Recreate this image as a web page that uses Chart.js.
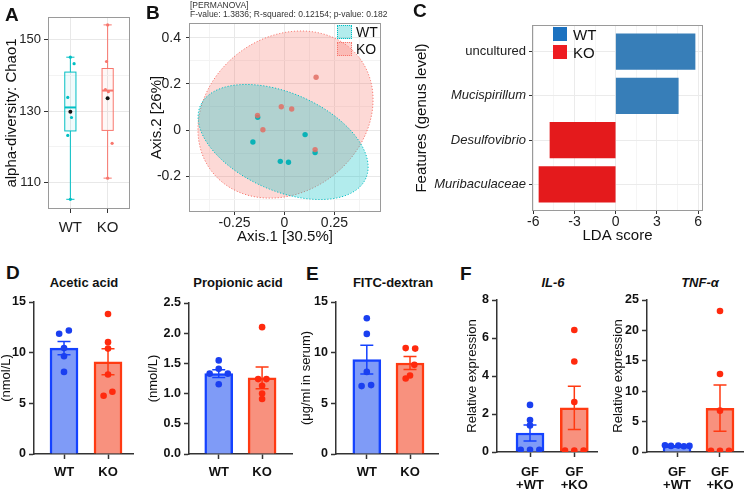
<!DOCTYPE html>
<html>
<head>
<meta charset="utf-8">
<script src="https://cdn.jsdelivr.net/npm/chart.js@4.4.1/dist/chart.umd.min.js"></script>
<style>
  body { margin: 0; background: #fff; }
  #fig { position: relative; width: 750px; height: 491px; overflow: hidden; font-family: 'Liberation Sans', Arial, sans-serif; color: #111; }
  #fig canvas { position: absolute; }
  .letter { position: absolute; font-weight: bold; font-size: 19px; line-height: 1; }
  .c { position: absolute; white-space: nowrap; line-height: 1; transform: translate(-50%, -50%); }
  .l { position: absolute; white-space: nowrap; line-height: 1; transform: translateY(-50%); }
  .key { position: absolute; box-sizing: border-box; }
  .ttl { font-weight: bold; font-size: 13px; }
</style>
</head>
<body>
<div id="fig">
  <canvas id="cA"></canvas>
  <canvas id="cB"></canvas>
  <canvas id="cC"></canvas>
  <canvas id="cAcetic"></canvas>
  <canvas id="cProp"></canvas>
  <canvas id="cFitc"></canvas>
  <canvas id="cIl6"></canvas>
  <canvas id="cTnf"></canvas>

  <div class="letter" style="left:5px;top:5px">A</div>
  <div class="letter" style="left:146px;top:3px">B</div>
  <div class="letter" style="left:413px;top:1px">C</div>
  <div class="letter" style="left:6px;top:263px">D</div>
  <div class="letter" style="left:306px;top:264px">E</div>
  <div class="letter" style="left:460px;top:264px">F</div>

  <div class="l" style="left:190px;top:5px;font-size:8.5px;color:#333">[PERMANOVA]</div>
  <div class="l" style="left:190px;top:14px;font-size:8.5px;color:#333">F-value: 1.3836; R-squared: 0.12154; p-value: 0.182</div>

  <div class="key" style="left:337px;top:25px;width:15px;height:14px;background:rgba(0,191,196,0.3);border:1px dotted #00bfc4"></div>
  <div class="key" style="left:337px;top:42px;width:15px;height:14px;background:rgba(248,118,109,0.3);border:1px dotted #f8766d"></div>
  <div class="l" style="left:356px;top:32px;font-size:14px">WT</div>
  <div class="l" style="left:356px;top:49px;font-size:14px">KO</div>

  <div class="key" style="left:553px;top:27px;width:14px;height:14px;background:#1c72c0"></div>
  <div class="key" style="left:553px;top:45px;width:14px;height:14px;background:#ee1c22"></div>
  <div class="l" style="left:573px;top:34px;font-size:15px">WT</div>
  <div class="l" style="left:573px;top:52px;font-size:15px">KO</div>

  <div class="c ttl" style="left:84px;top:282px">Acetic acid</div>
  <div class="c ttl" style="left:238px;top:282px">Propionic acid</div>
  <div class="c ttl" style="left:393px;top:282px">FITC-dextran</div>
  <div class="c ttl" style="left:553px;top:282px;font-style:italic">IL-6</div>
  <div class="c ttl" style="left:700px;top:282px;font-style:italic">TNF-α</div>
</div>

<script>
const groups = ['WT', 'KO'];

// A: alpha diversity (Chao1), one value per mouse
const chaoWT = [145.0, 143.2, 133.8, 128.2, 123.2, 105.4];
const chaoKO = [154.0, 143.8, 136.0, 135.4, 121.0, 111.3];
const chaoJitterWT = [0, 0.1, -0.07, 0.03, -0.07, 0];
const chaoJitterKO = [0, -0.03, -0.06, 0.02, 0.12, 0];
const chaoTicks = [110, 130, 150];

// B: PCoA coordinates
const pcoaWTx = [-0.134, -0.158, 0.103, 0.153, -0.021, 0.020];
const pcoaWTy = [0.055, -0.052, -0.020, -0.098, -0.136, -0.140];
const pcoaKOx = [0.158, -0.016, 0.036, -0.135, -0.108, 0.153];
const pcoaKOy = [0.229, 0.101, 0.091, 0.063, 0.001, -0.085];
// confidence ellipses: centre x, centre y, then two conjugate semi-axes (dx, dy)
const ellipseWT = [-0.007, -0.052, 0.414, -0.157, -0.097, -0.194];
const ellipseKO = [0.005, 0.067, 0.372, 0.243, 0.231, -0.269];
const pcoaXTicks = [-0.25, 0, 0.25];
const pcoaYTicks = [-0.2, 0, 0.2, 0.4];

// C: LEfSe LDA scores
const ldaFeatures = ['uncultured', 'Mucispirillum', 'Desulfovibrio', 'Muribaculaceae'];
const ldaScores = [5.77, 4.55, -4.78, -5.58];
const ldaGroup = ['WT', 'WT', 'KO', 'KO'];
const ldaItalic = [false, true, true, true];
const ldaTicks = [-6, -3, 0, 3, 6];

// D: short chain fatty acids
const aceticWT = [11.86, 12.19, 10.45, 9.64, 8.1];
const aceticKO = [13.82, 11.04, 10.4, 7.84, 6.14, 5.75];
const aceticMean = [10.45, 9.1];
const aceticSem = [0.66, 1.28];
const aceticTicks = [0, 5, 10, 15];

const propWT = [1.55, 1.41, 1.33, 1.33, 1.155];
const propKO = [2.1, 1.24, 1.24, 1.13, 1.0, 0.91];
const propMean = [1.33, 1.26];
const propSem = [0.065, 0.18];
const propTicks = [0, 0.5, 1.0, 1.5, 2.0, 2.5];

// E: FITC-dextran in serum
const fitcWT = [13.39, 11.85, 8.1, 6.7, 6.8];
const fitcKO = [10.45, 10.4, 8.8, 7.75, 7.45];
const fitcMean = [9.31, 8.98];
const fitcSem = [1.41, 0.64];
const fitcTicks = [0, 5, 10, 15];

// F: relative expression in germ-free recipients
const gfLabels = [['GF', '+WT'], ['GF', '+KO']];
const il6WT = [2.48, 1.68, 1.4, 0.12, 0.12, 0.12];
const il6KO = [6.42, 4.76, 2.63, 0.07, 0.07, 0.07];
const il6Mean = [1.0, 2.32];
const il6Sem = [0.42, 1.14];
const il6Ticks = [0, 2, 4, 6, 8];

const tnfWT = [1.1, 1.0, 1.05, 0.95, 1.0];
const tnfKO = [23.2, 12.83, 6.8, 0.2, 0.2, 0.2];
const tnfMean = [1.0, 7.2];
const tnfSem = [0.04, 3.8];
const tnfTicks = [0, 5, 10, 15, 20, 25];

// horizontal spread of the dots (category units)
const spread5 = [0, 0, -0.21, 0.21, 0];
const spread6 = [0, 0, 0, -0.21, 0, 0.21];

Chart.defaults.font.family = "'Liberation Sans', Arial, sans-serif";
Chart.defaults.color = '#222';

const TEAL = '#00BFC4', SALMON = '#F8766D';
const WT = { fill: '#7f9bf7', line: '#1442ff', dot: '#1a3ff0' };
const KO = { fill: '#f8917e', line: '#ff3a12', dot: '#ff2a0e' };
const AXIS = '#333';

function place(id, plot, pad) {
  const c = document.getElementById(id);
  const left = plot[0] - pad.l, top = plot[1] - pad.t;
  c.width = plot[2] + pad.r - left;
  c.height = plot[3] + pad.b - top;
  c.style.left = left + 'px';
  c.style.top = top + 'px';
  return c;
}

function fitTo(size, horizontal) {
  return s => {
    if (horizontal) s.height = size; else s.width = size;
    s.paddingTop = s.paddingBottom = s.paddingLeft = s.paddingRight = 0;
  };
}

// major ticks plus ggplot-style minor breaks half way between them
function withMinor(major, min, max) {
  const half = (major[1] - major[0]) / 2;
  const out = [];
  for (let v = major[0] - half; v <= major[major.length - 1] + half + 1e-9; v += half) {
    const r = +v.toFixed(6);
    if (r >= min && r <= max) out.push({ value: r });
  }
  return out;
}
const isIn = (arr, v) => arr.some(m => Math.abs(m - v) < 1e-9);

const panelBorder = {
  id: 'panelBorder',
  afterDraw(chart) {
    const { ctx, chartArea: a } = chart;
    ctx.save();
    ctx.strokeStyle = '#9a9a9a';
    ctx.lineWidth = 1;
    ctx.strokeRect(a.left + 0.5, a.top + 0.5, a.right - a.left - 1, a.bottom - a.top - 1);
    ctx.restore();
  }
};

function quantile(sorted, p) {
  const h = (sorted.length - 1) * p, lo = Math.floor(h);
  const next = sorted[Math.min(lo + 1, sorted.length - 1)];
  return sorted[lo] + (h - lo) * (next - sorted[lo]);
}
function boxStats(vals) {
  const s = [...vals].sort((a, b) => a - b);
  const q1 = quantile(s, 0.25), med = quantile(s, 0.5), q3 = quantile(s, 0.75);
  const iqr = q3 - q1;
  return {
    q1, med, q3,
    lo: Math.min(...s.filter(v => v >= q1 - 1.5 * iqr)),
    hi: Math.max(...s.filter(v => v <= q3 + 1.5 * iqr)),
    mean: s.reduce((a, b) => a + b, 0) / s.length
  };
}

const boxPlot = {
  id: 'boxPlot',
  beforeDatasetsDraw(chart) {
    const { ctx, scales: { x, y } } = chart;
    [chaoWT, chaoKO].forEach((vals, i) => {
      const st = boxStats(vals);
      const col = [TEAL, SALMON][i];
      const cx = x.getPixelForValue(i + 1);
      const hw = x.getPixelForValue(i + 1.15) - cx;
      const cap = x.getPixelForValue(i + 1.11) - cx;
      const py = v => y.getPixelForValue(v);
      ctx.save();
      ctx.strokeStyle = col;
      ctx.lineWidth = 1;
      ctx.beginPath();
      ctx.moveTo(cx, py(st.hi)); ctx.lineTo(cx, py(st.q3));
      ctx.moveTo(cx, py(st.q1)); ctx.lineTo(cx, py(st.lo));
      ctx.moveTo(cx - cap, py(st.hi)); ctx.lineTo(cx + cap, py(st.hi));
      ctx.moveTo(cx - cap, py(st.lo)); ctx.lineTo(cx + cap, py(st.lo));
      ctx.stroke();
      ctx.fillStyle = i ? 'rgba(248,118,109,0.06)' : 'rgba(0,191,196,0.06)';
      ctx.fillRect(cx - hw, py(st.q3), 2 * hw, py(st.q1) - py(st.q3));
      ctx.strokeRect(cx - hw, py(st.q3), 2 * hw, py(st.q1) - py(st.q3));
      ctx.lineWidth = 2;
      ctx.beginPath();
      ctx.moveTo(cx - hw, py(st.med)); ctx.lineTo(cx + hw, py(st.med));
      ctx.stroke();
      ctx.restore();
    });
  },
  afterDatasetsDraw(chart) {
    const { ctx, scales: { x, y } } = chart;
    [chaoWT, chaoKO].forEach((vals, i) => {
      const st = boxStats(vals);
      ctx.save();
      ctx.fillStyle = '#111';
      ctx.beginPath();
      ctx.arc(x.getPixelForValue(i + 1), y.getPixelForValue(st.mean), 2, 0, Math.PI * 2);
      ctx.fill();
      ctx.restore();
    });
  }
};

const ellipses = {
  id: 'ellipses',
  beforeDatasetsDraw(chart) {
    const { ctx, chartArea: a, scales: { x, y } } = chart;
    ctx.save();
    ctx.beginPath();
    ctx.rect(a.left, a.top, a.right - a.left, a.bottom - a.top);
    ctx.clip();
    [[ellipseKO, 'rgba(248,118,109,0.28)', SALMON], [ellipseWT, 'rgba(0,191,196,0.3)', TEAL]].forEach(([e, fill, line]) => {
      ctx.beginPath();
      for (let k = 0; k <= 180; k++) {
        const t = k / 180 * Math.PI * 2;
        const px = x.getPixelForValue(e[0] + e[2] * Math.cos(t) + e[4] * Math.sin(t));
        const py = y.getPixelForValue(e[1] + e[3] * Math.cos(t) + e[5] * Math.sin(t));
        if (k) ctx.lineTo(px, py); else ctx.moveTo(px, py);
      }
      ctx.closePath();
      ctx.fillStyle = fill;
      ctx.fill();
      ctx.setLineDash([1.2, 1.8]);
      ctx.strokeStyle = line;
      ctx.lineWidth = 1;
      ctx.stroke();
      ctx.setLineDash([]);
    });
    ctx.restore();
  }
};

const errorBars = {
  id: 'errorBars',
  afterDatasetDraw(chart, args) {
    const ds = chart.data.datasets[args.index];
    if (!ds.errors) return;
    const { ctx, scales: { x, y } } = chart;
    ds.data.forEach((d, i) => {
      const cx = x.getPixelForValue(d.x);
      const top = y.getPixelForValue(d.y + ds.errors[i]);
      const bot = y.getPixelForValue(d.y - ds.errors[i]);
      ctx.save();
      ctx.strokeStyle = ds.borderColor[i];
      ctx.lineWidth = 1.5;
      ctx.beginPath();
      ctx.moveTo(cx, top); ctx.lineTo(cx, bot);
      ctx.moveTo(cx - 6.5, top); ctx.lineTo(cx + 6.5, top);
      ctx.moveTo(cx - 6.5, bot); ctx.lineTo(cx + 6.5, bot);
      ctx.stroke();
      ctx.restore();
    });
  }
};

const noChrome = { legend: { display: false }, tooltip: { enabled: false } };

// ---------- A ----------
{
  const pad = { l: 45, t: 17, r: 3, b: 32 };
  const yMin = 102.7, yMax = 156.2;
  new Chart(place('cA', [48, 17, 131, 209], pad), {
    type: 'scatter',
    data: {
      datasets: [
        { data: chaoWT.map((v, i) => ({ x: 1 + chaoJitterWT[i], y: v })), backgroundColor: TEAL, pointRadius: 1.6, borderWidth: 0 },
        { data: chaoKO.map((v, i) => ({ x: 2 + chaoJitterKO[i], y: v })), backgroundColor: SALMON, pointRadius: 1.6, borderWidth: 0 }
      ]
    },
    options: {
      responsive: false, animation: false,
      layout: { padding: { left: 0, top: pad.t, right: pad.r, bottom: 0 } },
      plugins: noChrome,
      scales: {
        x: {
          type: 'linear', min: 0.4, max: 2.6,
          afterFit: fitTo(pad.b, true),
          afterBuildTicks: s => { s.ticks = [{ value: 1 }, { value: 2 }]; },
          ticks: { callback: v => groups[v - 1], font: { size: 15 }, color: '#222', padding: 6, autoSkip: false, maxRotation: 0 },
          grid: { color: '#e8e8e8', tickLength: 4, tickColor: AXIS },
          border: { display: false }
        },
        y: {
          min: yMin, max: yMax,
          afterFit: fitTo(pad.l, false),
          afterBuildTicks: s => { s.ticks = withMinor(chaoTicks, yMin, yMax); },
          ticks: { callback: v => isIn(chaoTicks, v) ? String(v) : '', font: { size: 13 }, color: '#222', padding: 3, autoSkip: false },
          grid: {
            color: c => isIn(chaoTicks, c.tick.value) ? '#e8e8e8' : '#f3f3f3',
            tickColor: c => isIn(chaoTicks, c.tick.value) ? AXIS : 'rgba(0,0,0,0)',
            tickLength: 4
          },
          border: { display: false },
          title: { display: true, text: 'alpha-diversity: Chao1', font: { size: 15 }, color: '#111', padding: 0 }
        }
      }
    },
    plugins: [boxPlot, panelBorder]
  });
}

// ---------- B ----------
{
  const pad = { l: 41, t: 23, r: 3, b: 34 };
  const xMin = -0.4776, xMax = 0.4826, yMin = -0.3557, yMax = 0.4642;
  new Chart(place('cB', [189, 23, 382, 212], pad), {
    type: 'scatter',
    data: {
      datasets: [
        { data: pcoaKOx.map((v, i) => ({ x: v, y: pcoaKOy[i] })), backgroundColor: 'rgba(226,110,100,0.85)', pointRadius: 2.7, borderWidth: 0 },
        { data: pcoaWTx.map((v, i) => ({ x: v, y: pcoaWTy[i] })), backgroundColor: 'rgba(0,176,181,0.95)', pointRadius: 2.7, borderWidth: 0 }
      ]
    },
    options: {
      responsive: false, animation: false,
      layout: { padding: { left: 0, top: pad.t, right: pad.r, bottom: 0 } },
      plugins: noChrome,
      scales: {
        x: {
          type: 'linear', min: xMin, max: xMax,
          afterFit: fitTo(pad.b, true),
          afterBuildTicks: s => { s.ticks = withMinor(pcoaXTicks, xMin, xMax); },
          ticks: { callback: v => isIn(pcoaXTicks, v) ? String(v) : '', font: { size: 14 }, color: '#222', padding: 0, autoSkip: false, maxRotation: 0 },
          grid: {
            color: c => isIn(pcoaXTicks, c.tick.value) ? '#e8e8e8' : '#f3f3f3',
            tickColor: c => isIn(pcoaXTicks, c.tick.value) ? AXIS : 'rgba(0,0,0,0)',
            tickLength: 3
          },
          border: { display: false },
          title: { display: true, text: 'Axis.1 [30.5%]', font: { size: 15 }, color: '#111', padding: 0 }
        },
        y: {
          min: yMin, max: yMax,
          afterFit: fitTo(pad.l, false),
          afterBuildTicks: s => { s.ticks = withMinor(pcoaYTicks, yMin, yMax); },
          ticks: { callback: v => isIn(pcoaYTicks, v) ? String(v) : '', font: { size: 14 }, color: '#222', padding: 5, autoSkip: false },
          grid: {
            color: c => isIn(pcoaYTicks, c.tick.value) ? '#e8e8e8' : '#f3f3f3',
            tickColor: c => isIn(pcoaYTicks, c.tick.value) ? AXIS : 'rgba(0,0,0,0)',
            tickLength: 3
          },
          border: { display: false },
          title: { display: true, text: 'Axis.2 [26%]', font: { size: 15 }, color: '#111', padding: 0 }
        }
      }
    },
    plugins: [ellipses, panelBorder]
  });
}

// ---------- C ----------
{
  const pad = { l: 119, t: 25, r: 12, b: 34 };
  const xMin = -6.087, xMax = 6.349;
  new Chart(place('cC', [532, 25, 703, 211], pad), {
    type: 'bar',
    data: {
      datasets: [{
        data: ldaScores.map((v, i) => ({ x: v, y: i })),
        backgroundColor: ldaGroup.map(g => g === 'WT' ? '#377eb8' : '#e41a1c'),
        borderWidth: 0,
        barThickness: 35.5
      }]
    },
    options: {
      responsive: false, animation: false, indexAxis: 'y',
      layout: { padding: { left: 0, top: pad.t, right: pad.r, bottom: 0 } },
      plugins: noChrome,
      scales: {
        x: {
          type: 'linear', min: xMin, max: xMax,
          afterFit: fitTo(pad.b, true),
          afterBuildTicks: s => { s.ticks = withMinor(ldaTicks, xMin, xMax); },
          ticks: { callback: v => isIn(ldaTicks, v) ? String(v) : '', font: { size: 14 }, color: '#222', padding: 0, autoSkip: false, maxRotation: 0 },
          grid: {
            color: c => isIn(ldaTicks, c.tick.value) ? '#ebebeb' : '#f5f5f5',
            tickColor: c => isIn(ldaTicks, c.tick.value) ? AXIS : 'rgba(0,0,0,0)',
            tickLength: 3
          },
          border: { display: false },
          title: { display: true, text: 'LDA score', font: { size: 15 }, color: '#111', padding: 0 }
        },
        y: {
          type: 'linear', min: -0.6, max: 3.6, reverse: true, offset: false,
          afterFit: fitTo(pad.l, false),
          afterBuildTicks: s => { s.ticks = ldaFeatures.map((f, i) => ({ value: i })); },
          ticks: {
            callback: v => ldaFeatures[v],
            font: c => ({ size: 13, style: ldaItalic[c.index] ? 'italic' : 'normal' }),
            color: '#222', padding: 3, autoSkip: false
          },
          grid: { color: '#ebebeb', tickColor: AXIS, tickLength: 3, offset: false },
          border: { display: false },
          title: { display: true, text: 'Features (genus level)', font: { size: 15 }, color: '#111', padding: 0 }
        }
      }
    },
    plugins: [panelBorder]
  });
}

// ---------- D / E / F: bars with dots ----------
function dotBar(id, o) {
  const pad = o.pad;
  return new Chart(place(id, o.plot, pad), {
    type: 'bar',
    data: {
      datasets: [
        { type: 'scatter', order: 0, data: o.wt.map((v, i) => ({ x: 1 + o.jitWT[i], y: v })), backgroundColor: WT.dot, pointRadius: 3.3, borderWidth: 0 },
        { type: 'scatter', order: 0, data: o.ko.map((v, i) => ({ x: 2 + o.jitKO[i], y: v })), backgroundColor: KO.dot, pointRadius: 3.3, borderWidth: 0 },
        {
          type: 'bar', order: 1,
          data: o.mean.map((m, i) => ({ x: i + 1, y: m })),
          errors: o.sem,
          backgroundColor: [WT.fill, KO.fill],
          borderColor: [WT.line, KO.line],
          borderWidth: 2.5,
          borderSkipped: 'start',
          barThickness: 28
        }
      ]
    },
    options: {
      responsive: false, animation: false,
      layout: { padding: { left: 0, top: pad.t, right: pad.r, bottom: 0 } },
      plugins: noChrome,
      scales: {
        x: {
          type: 'linear', min: o.xMin, max: o.xMax, offset: false,
          afterFit: fitTo(pad.b, true),
          afterBuildTicks: s => { s.ticks = [{ value: 1 }, { value: 2 }]; },
          ticks: { callback: v => o.xLabels[v - 1], font: { size: 13, weight: 'bold', lineHeight: 1.02 }, color: '#111', padding: o.labelPad, autoSkip: false, maxRotation: 0 },
          grid: { drawOnChartArea: false, offset: false, tickLength: 5, tickColor: AXIS, tickWidth: 1.5 },
          border: { color: AXIS, width: 1.5 }
        },
        y: {
          min: 0, max: o.ticks[o.ticks.length - 1],
          afterFit: fitTo(pad.l, false),
          afterBuildTicks: s => { s.ticks = o.ticks.map(v => ({ value: v })); },
          ticks: { callback: v => v.toFixed(o.decimals), font: { size: 12.5, weight: 'bold' }, color: '#111', padding: 3, autoSkip: false },
          grid: { drawOnChartArea: false, tickLength: 5, tickColor: AXIS, tickWidth: 1.5 },
          border: { color: AXIS, width: 1.5 },
          title: { display: true, text: o.yTitle, font: { size: 13 }, color: '#111', padding: 0 }
        }
      }
    },
    plugins: [errorBars]
  });
}

dotBar('cAcetic', {
  plot: [34, 302, 133, 454], pad: { l: 35, t: 10, r: 6, b: 40 },
  xMin: 0.318, xMax: 2.568, labelPad: 7, xLabels: groups,
  wt: aceticWT, ko: aceticKO, jitWT: [-0.11, 0.11, 0, 0, 0], jitKO: [0, 0, 0, 0, 0.1, -0.1],
  mean: aceticMean, sem: aceticSem, ticks: aceticTicks, decimals: 0, yTitle: '(nmol/L)'
});
dotBar('cProp', {
  plot: [189, 303, 292, 454], pad: { l: 43, t: 10, r: 6, b: 40 },
  xMin: 0.314, xMax: 2.69, labelPad: 7, xLabels: groups,
  wt: propWT, ko: propKO, jitWT: spread5, jitKO: [0, -0.09, 0.1, 0, 0, 0],
  mean: propMean, sem: propSem, ticks: propTicks, decimals: 1, yTitle: '(nmol/L)'
});
dotBar('cFitc', {
  plot: [336, 302, 438, 454], pad: { l: 37, t: 10, r: 6, b: 40 },
  xMin: 0.287, xMax: 2.648, labelPad: 7, xLabels: groups,
  wt: fitcWT, ko: fitcKO, jitWT: [0, 0, 0, -0.12, 0.1], jitKO: [-0.1, 0.12, 0.1, 0, -0.1],
  mean: fitcMean, sem: fitcSem, ticks: fitcTicks, decimals: 0, yTitle: '(μg/ml in serum)'
});
dotBar('cIl6', {
  plot: [497, 300, 597, 452], pad: { l: 32, t: 10, r: 6, b: 39 },
  xMin: 0.255, xMax: 2.512, labelPad: 8.5, xLabels: gfLabels,
  wt: il6WT, ko: il6KO, jitWT: spread6, jitKO: spread6,
  mean: il6Mean, sem: il6Sem, ticks: il6Ticks, decimals: 0, yTitle: 'Relative expression'
});
dotBar('cTnf', {
  plot: [647, 300, 743, 452], pad: { l: 36, t: 10, r: 6, b: 39 },
  xMin: 0.302, xMax: 2.535, labelPad: 8.5, xLabels: gfLabels,
  wt: tnfWT, ko: tnfKO, jitWT: [-0.28, -0.14, 0.03, 0.16, 0.29], jitKO: spread6,
  mean: tnfMean, sem: tnfSem, ticks: tnfTicks, decimals: 0, yTitle: 'Relative expression'
});
</script>
</body>
</html>
